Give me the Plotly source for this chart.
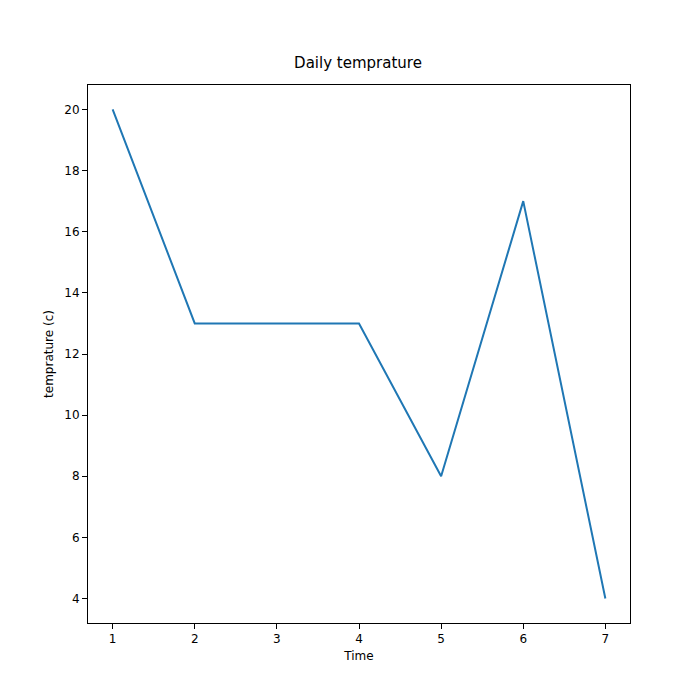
import plotly.graph_objects as go

days = [1, 2, 3, 4, 5, 6, 7]
temps = [20, 13, 13, 13, 8, 17, 4]

fig = go.Figure()
fig.add_trace(go.Scatter(x=days, y=temps, mode="lines",
                         line=dict(color="#1f77b4", width=2)))

axis_style = dict(showline=True, linecolor="black", linewidth=1, mirror=True,
                  ticks="outside", ticklen=5, tickcolor="black",
                  showgrid=False, zeroline=False, tickfont=dict(size=12, color="black"))

fig.update_layout(
    width=700, height=700,
    margin=dict(l=80, r=78, t=77, b=85),
    paper_bgcolor="white", plot_bgcolor="white",
    font=dict(family="DejaVu Sans", color="black"),
    showlegend=False,
    title=dict(text="Daily temprature", x=0.5, xanchor="center",
               y=1 - 55 / 700, yanchor="middle", font=dict(size=15)),
    xaxis=dict(range=[0.7, 7.3], tickvals=days,
               title=dict(text="Time", font=dict(size=12), standoff=6), **axis_style),
    yaxis=dict(range=[3.2, 20.8], tickvals=[4, 6, 8, 10, 12, 14, 16, 18, 20],
               title=dict(text="temprature (c)", font=dict(size=12), standoff=8), **axis_style),
)

fig.write_html("out.html")
